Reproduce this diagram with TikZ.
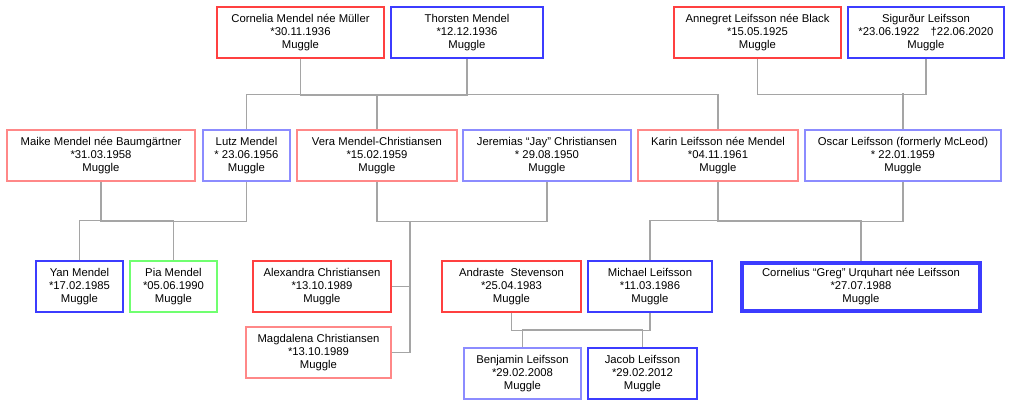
\documentclass[tikz,border=0pt]{standalone}
\usepackage{fontspec}
\setmainfont{Liberation Sans}
\definecolor{redfull}{RGB}{255,64,64}
\definecolor{redsoft}{RGB}{255,136,136}
\definecolor{bluefull}{RGB}{60,60,255}
\definecolor{bluesoft}{RGB}{140,140,255}
\definecolor{greensoft}{RGB}{112,255,112}
\definecolor{linkgray}{RGB}{165,165,165}
\begin{document}
\begin{tikzpicture}[
  x=1pt, y=-1pt, font=\fontsize{11.3}{13}\selectfont,
  person/.style={rectangle, draw, align=center, inner sep=0pt, minimum height=51pt, line width=1.3pt},
  fem/.style={person, draw=redfull},
  femsoft/.style={person, draw=redsoft},
  male/.style={person, draw=bluefull},
  malesoft/.style={person, draw=bluesoft},
  link/.style={draw=linkgray, line width=1.6pt}
]
  \useasboundingbox[fill=white] (0,0) rectangle (1010,410);
  \node[fem, minimum width=167pt] (cornelia) at (300.5,32.5) {Cornelia Mendel née Müller\\{}*30.11.1936\\Muggle};
  \node[male, minimum width=152pt] (thorsten) at (467,32.5) {Thorsten Mendel\\{}*12.12.1936\\Muggle};
  \node[fem, minimum width=167pt] (annegret) at (757.5,32.5) {Annegret Leifsson née Black\\{}*15.05.1925\\Muggle};
  \node[male, minimum width=156pt] (sigurdur) at (926,32.5) {Sigurður Leifsson\\{}*23.06.1922\hspace{1em}†22.06.2020\\Muggle};
  \node[femsoft, minimum width=188pt] (maike) at (101,155.5) {Maike Mendel née Baumgärtner\\{}*31.03.1958\\Muggle};
  \node[malesoft, minimum width=87pt] (lutz) at (246.5,155.5) {Lutz Mendel\\{}* 23.06.1956\\Muggle};
  \node[femsoft, minimum width=160pt] (vera) at (377,155.5) {Vera Mendel-Christiansen\\{}*15.02.1959\\Muggle};
  \node[malesoft, minimum width=168pt] (jeremias) at (547,155.5) {Jeremias “Jay” Christiansen\\{}* 29.08.1950\\Muggle};
  \node[femsoft, minimum width=160pt] (karin) at (718,155.5) {Karin Leifsson née Mendel\\{}*04.11.1961\\Muggle};
  \node[malesoft, minimum width=196pt] (oscar) at (903,155.5) {Oscar Leifsson (formerly McLeod)\\{}* 22.01.1959\\Muggle};
  \node[male, minimum width=87pt] (yan) at (79.5,286.5) {Yan Mendel\\{}*17.02.1985\\Muggle};
  \node[person, draw=greensoft, minimum width=87pt] (pia) at (173.5,286.5) {Pia Mendel\\{}*05.06.1990\\Muggle};
  \node[fem, minimum width=138pt] (alexandra) at (322,286.5) {Alexandra Christiansen\\{}*13.10.1989\\Muggle};
  \node[femsoft, minimum width=145pt] (magdalena) at (318.5,352.5) {Magdalena Christiansen\\{}*13.10.1989\\Muggle};
  \node[fem, minimum width=139pt] (andraste) at (511.5,286.5) {Andraste\ \ Stevenson\\{}*25.04.1983\\Muggle};
  \node[male, minimum width=124pt] (michael) at (650,286.5) {Michael Leifsson\\{}*11.03.1986\\Muggle};
  \node[male, line width=4pt, minimum width=238pt, minimum height=48pt] (cornelius) at (861,287) {Cornelius “Greg” Urquhart née Leifsson\\{}*27.07.1988\\Muggle};
  \node[malesoft, minimum width=117pt] (benjamin) at (522.5,373.5) {Benjamin Leifsson\\{}*29.02.2008\\Muggle};
  \node[male, minimum width=109pt] (jacob) at (642.5,373.5) {Jacob Leifsson\\{}*29.02.2012\\Muggle};
  \coordinate (vjbar) at (410,221);
  \draw[link] (cornelia.south) -- ++(0,37) -| (thorsten.south);
  \draw[link] (lutz.north) -- ++(0,-35) -| (karin.north);
  \draw[link] (vera.north) -- ++(0,-35);
  \draw[link] (annegret.south) -- ++(0,36) -| (sigurdur.south);
  \draw[link] (oscar.north) -- ++(0,-36);
  \draw[link] (maike.south) -- ++(0,40) -| (lutz.south);
  \draw[link] (yan.north) -- ++(0,-40) -| (pia.north);
  \draw[link] (vera.south) -- ++(0,40) -| (jeremias.south);
  \draw[link] (alexandra.east) -- (alexandra.east -| vjbar);
  \draw[link] (magdalena.east) -| (vjbar);
  \draw[link] (karin.south) -- ++(0,40) -| (oscar.south);
  \draw[link] (michael.north) -- ++(0,-40) -| (cornelius.north);
  \draw[link] (andraste.south) -- ++(0,18) -| (michael.south);
  \draw[link] (benjamin.north) -- ++(0,-18) -| (jacob.north);
\end{tikzpicture}
\end{document}
